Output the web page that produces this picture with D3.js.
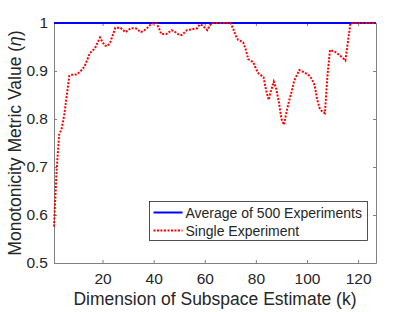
<!DOCTYPE html>
<html>
<head>
<meta charset="utf-8">
<script src="https://cdn.jsdelivr.net/npm/d3@7"></script>
<style>
  body { margin: 0; background: #fff; }
  svg text { font-family: "Liberation Sans", Arial, sans-serif; fill: #262626; }
  .axis path, .axis line { stroke: #808080; }
  .axis text { font-size: 15.5px; }
</style>
</head>
<body>
<svg id="chart"></svg>
<script>
(function() {
  'use strict';
  const W = 415, H = 312;
  const margin = {top: 23, right: 39, bottom: 49, left: 54};
  const width = W - margin.left - margin.right;
  const height = H - margin.top - margin.bottom;

  // subspace dimension k and the monotonicity metric
  const avgK   = [1, 127];
  const avgEta = [1, 1];

  const singleK = [1, 2, 3, 4, 5, 6, 7, 8, 10, 12, 13, 15, 17, 19, 20, 21, 22, 23, 24, 25,
    27, 29, 31, 33, 35, 37, 39, 40, 41, 42, 43, 45, 47, 48, 50, 51, 53, 55, 57, 58,
    59, 60, 61, 62, 63, 70, 71, 72, 73, 75, 76, 77, 79, 80, 81, 83, 84, 85, 86, 87,
    88, 89, 90, 91, 92, 93, 94, 95, 97, 99, 101, 102, 103, 104, 105, 106, 107, 108, 109, 111,
    113, 115, 116, 117, 127];
  const singleEta = [0.576, 0.69, 0.767, 0.78, 0.808, 0.85, 0.89, 0.892, 0.893, 0.903,
    0.91, 0.937, 0.947, 0.97, 0.96, 0.953, 0.952, 0.96, 0.975, 0.99,
    0.99, 0.981, 0.989, 0.989, 0.981, 0.987, 0.998, 1, 1, 0.99,
    0.977, 0.977, 0.985, 0.983, 0.975, 0.975, 0.985, 0.987, 0.989, 0.997,
    0.995, 0.99, 0.985, 0.995, 1, 1, 0.99, 0.975, 0.965, 0.96,
    0.945, 0.925, 0.918, 0.905, 0.895, 0.887, 0.86, 0.84, 0.86, 0.878,
    0.862, 0.835, 0.8, 0.788, 0.815, 0.838, 0.857, 0.88, 0.902, 0.897,
    0.89, 0.882, 0.87, 0.84, 0.822, 0.815, 0.812, 0.89, 0.944, 0.94,
    0.932, 0.922, 0.96, 1, 1];

  const xTicks = [20, 40, 60, 80, 100, 120];
  const yTicks = [0.5, 0.6, 0.7, 0.8, 0.9, 1];
  const legendLabels = ['Average of 500 Experiments', 'Single Experiment'];

  const svg = d3.select('#chart').attr('width', W).attr('height', H);
  const g = svg.append('g').attr('transform', `translate(${margin.left},${margin.top})`);

  const x = d3.scaleLinear().domain([1, 127]).range([0, width]);
  const y = d3.scaleLinear().domain([0.5, 1]).range([height, 0]);

  // box and ticks (inward, on all four sides)
  g.append('g').attr('class', 'axis')
    .attr('transform', `translate(0,${height})`)
    .call(d3.axisBottom(x).tickValues(xTicks).tickSizeInner(-3).tickSizeOuter(0).tickPadding(10));
  g.append('g').attr('class', 'axis')
    .call(d3.axisTop(x).tickValues(xTicks).tickSizeInner(-3).tickSizeOuter(0).tickFormat(''));
  g.append('g').attr('class', 'axis')
    .call(d3.axisLeft(y).tickValues(yTicks).tickSizeInner(-3).tickSizeOuter(0).tickPadding(6)
      .tickFormat(d => d === 1 ? '1' : d3.format('.1f')(d)));
  g.append('g').attr('class', 'axis')
    .attr('transform', `translate(${width},0)`)
    .call(d3.axisRight(y).tickValues(yTicks).tickSizeInner(-3).tickSizeOuter(0).tickFormat(''));

  const line = d3.line().x(d => x(d[0])).y(d => y(d[1]));

  g.append('path')
    .datum(d3.zip(avgK, avgEta))
    .attr('d', line)
    .attr('fill', 'none')
    .attr('stroke', '#0000ff')
    .attr('stroke-width', 2);

  g.append('path')
    .datum(d3.zip(singleK, singleEta))
    .attr('d', line)
    .attr('fill', 'none')
    .attr('stroke', '#ff0000')
    .attr('stroke-width', 2)
    .attr('stroke-dasharray', '2,1.5');

  // axis titles
  svg.append('text')
    .attr('x', margin.left + width / 2)
    .attr('y', 305)
    .attr('text-anchor', 'middle')
    .style('font-size', '17.5px')
    .text('Dimension of Subspace Estimate (k)');

  const yl = svg.append('text')
    .attr('transform', `translate(21,${margin.top + height / 2}) rotate(-90)`)
    .attr('text-anchor', 'middle')
    .style('font-size', '17.5px');
  yl.append('tspan').text('Monotonicity Metric Value (');
  yl.append('tspan').style('font-style', 'italic').text('η');
  yl.append('tspan').text(')');

  // legend
  const lg = svg.append('g').attr('transform', 'translate(149.5,201.5)');
  lg.append('rect')
    .attr('width', 218).attr('height', 39)
    .attr('fill', '#fff').attr('stroke', '#262626').attr('stroke-width', 0.8);
  legendLabels.forEach((label, i) => {
    const yy = 11 + i * 18;
    lg.append('line')
      .attr('x1', 4).attr('x2', 33).attr('y1', yy).attr('y2', yy)
      .attr('stroke', i === 0 ? '#0000ff' : '#ff0000')
      .attr('stroke-width', 2)
      .attr('stroke-dasharray', i === 0 ? null : '2,1.5');
    lg.append('text')
      .attr('x', 36).attr('y', yy + 5)
      .style('font-size', '14px')
      .text(label);
  });
})();
</script>
</body>
</html>
